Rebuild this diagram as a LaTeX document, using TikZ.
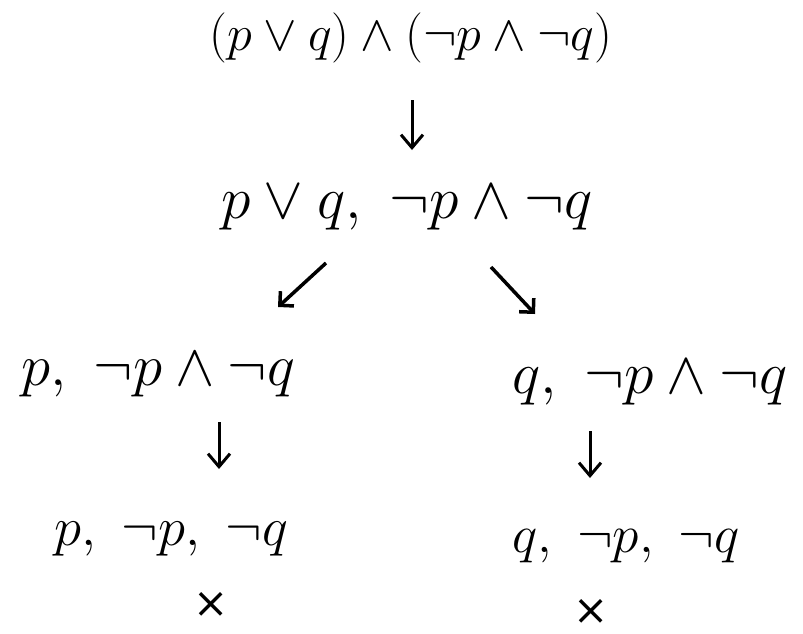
\documentclass[tikz,border=0pt]{standalone}
\usepackage{fontspec}
\newfontfamily\crossfont{DejaVu Sans}
\usetikzlibrary{arrows.meta}
\begin{document}
\begin{tikzpicture}[x=1pt,y=-1pt,
  f/.style={font=\fontsize{24.88}{30}\selectfont, inner sep=0pt, anchor=base},
  cross/.style={font=\crossfont\fontsize{42}{48}\selectfont, inner sep=0pt},
  arr/.style={-{Straight Barb[length=13pt,width=22pt,line width=3pt]}, line width=3pt},
  darr/.style={-{Straight Barb[length=10pt,width=20pt,line width=3.5pt]}, line width=3.5pt}]
\useasboundingbox (0,0) rectangle (803,633);
\node[f,scale=2.02] (n1) at (411,50) {$(p\vee q)\wedge(\neg p\wedge\neg q)$};
\node[f,scale=2.4] (n2) at (407,218) {$p\vee q,\ \neg p\wedge\neg q$};
\node[f,scale=2.37] (n3) at (158,385) {$p,\ \neg p\wedge\neg q$};
\node[f,scale=2.4] (n4) at (650,393) {$q,\ \neg p\wedge\neg q$};
\node[f,scale=2.2] (n5) at (171,545) {$p,\ \neg p,\ \neg q$};
\node[f,scale=2.15] (n6) at (626,552) {$q,\ \neg p,\ \neg q$};
\node[cross] (x1) at (211,605) {×};
\node[cross] (x2) at (591,612) {×};
\coordinate (a1s) at (412,100); \coordinate (a1e) at (412,150);
\coordinate (a2s) at (326,263); \coordinate (a2e) at (278,307);
\coordinate (a3s) at (491,267); \coordinate (a3e) at (535,314);
\coordinate (a4s) at (219,422); \coordinate (a4e) at (219,469);
\coordinate (a5s) at (590,431); \coordinate (a5e) at (590,478);
\draw[arr] (a1s) -- (a1e);
\draw[darr] (a2s) -- (a2e);
\draw[darr] (a3s) -- (a3e);
\draw[arr] (a4s) -- (a4e);
\draw[arr] (a5s) -- (a5e);
\end{tikzpicture}
\end{document}
